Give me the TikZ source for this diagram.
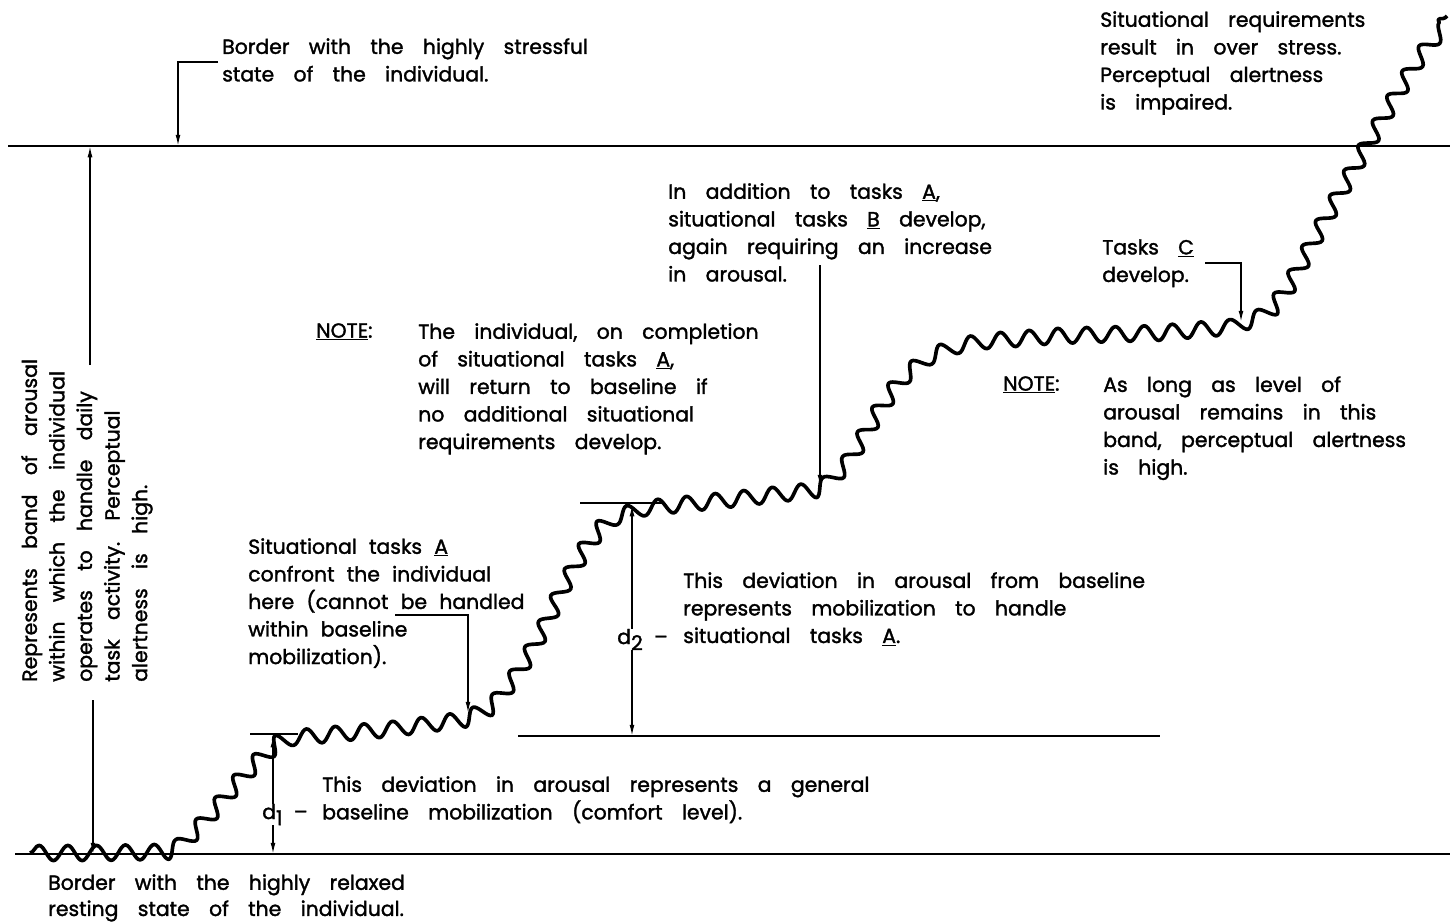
\documentclass[tikz,border=0pt]{standalone}
\usepackage{fontspec}
\setmainfont{Poppins}[FakeBold=1.6]
\usetikzlibrary{arrows.meta,decorations.pathmorphing,positioning}
\newcommand{\lettering}{\fontsize{14.5}{19.6}\selectfont\spaceskip=0.95em\relax}
\newcommand{\tightlettering}{\fontsize{14.5}{19.6}\selectfont\spaceskip=0.6em\relax}

\begin{document}
\begin{tikzpicture}[x=0.025cm, y=-0.025cm,
  note/.style={anchor=north west, inner sep=0pt, align=left, font=\lettering},
  border/.style={line width=1.8pt},
  lead/.style={line width=1pt, -{Latex[length=8pt,width=3.5pt]}},
  backlead/.style={line width=1pt, {Latex[length=8pt,width=3.5pt]}-},
  coil/.style={line width=2.6pt, line join=round, decorate,
    decoration={snake, segment length=0.72cm, amplitude=0.19cm}},
]
\useasboundingbox (0,0) rectangle (1450,921);

% === BORDER LINES ===
\coordinate (hiL) at (8,146);
\coordinate (hiR) at (1450,146);
\coordinate (loL) at (15,854);
\coordinate (loR) at (1450,854);
\coordinate (baseL) at (518,736);
\coordinate (baseR) at (1160,736);
\draw[border] (hiL) -- (hiR);
\draw[border] (loL) -- (loR);
\draw[border] (baseL) -- (baseR);

% ticks at top of d1 and d2
\coordinate (t1L) at (250,734);
\coordinate (t1R) at (298,734);
\coordinate (t2L) at (580,503);
\coordinate (t2R) at (662,503);
\draw[border] (t1L) -- (t1R);
\draw[border] (t2L) -- (t2R);

% === AROUSAL CURVE ===
\draw[coil] (30,853) -- (95,853) -- (155,852) -- (175,843) -- (195,823)
  -- (215,800) -- (235,776) -- (255,755) -- (272,740) -- (290,734)
  -- (380,726) -- (465,715) -- (485,706) -- (500,692) -- (515,672)
  -- (530,648) -- (545,620) -- (563,582) -- (580,552) -- (600,527)
  -- (618,513) -- (640,506) -- (720,498) -- (810,488) -- (830,478)
  -- (845,462) -- (860,437) -- (875,412) -- (890,390) -- (905,372)
  -- (925,356) -- (950,346) -- (980,341) -- (1050,336) -- (1150,333)
  -- (1225,327) -- (1245,320) -- (1262,308) -- (1278,287) -- (1290,265)
  -- (1310,228) -- (1333,187) -- (1358,143) -- (1383,100) -- (1403,67)
  -- (1423,40) -- (1447,16);

% === TEXTS ===
\node[note] (stress) at (222,38) {Border with the highly stressful\\state of the individual.};
\node[note] (over) at (1100,11) {Situational requirements\\result in over stress.\\Perceptual alertness\\is impaired.};
\node[note] (addB) at (668,183) {In addition to tasks \underline{A},\\situational tasks \underline{B} develop,\\again requiring an increase\\in arousal.};
\node[note] (tasksC) at (1102,239) {Tasks \underline{C}\\develop.};
\node[note] (note1) at (316,323) {\underline{NOTE}:};
\node[note] (note1txt) at (418,323) {The individual, on completion\\of situational tasks \underline{A},\\will return to baseline if\\no additional situational\\requirements develop.};
\node[note] (note2) at (1003,376) {\underline{NOTE}:};
\node[note] (note2txt) at (1103,376) {As long as level of\\arousal remains in this\\band, perceptual alertness\\is high.};
\node[note, font=\tightlettering] (tasksA) at (248,538) {Situational tasks \underline{A}\\confront the individual\\here (cannot be handled\\within baseline\\mobilization).};
\node[note] (dev2) at (683,572) {This deviation in arousal from baseline\\represents mobilization to handle\\situational tasks \underline{A}.};
\node[note] (dev1) at (322,776) {This deviation in arousal represents a general\\baseline mobilization (comfort level).};
\node[note] (relaxed) at (48,874) {Border with the highly relaxed\\[-1pt]resting state of the individual.};
\node[note, rotate=90] (band) at (21,682) {Represents band of arousal\\within which the individual\\operates to handle daily\\task activity. Perceptual\\alertness is high.};

% d labels
\node[note, anchor=base west] (d1lab) at (262,819) {d\raisebox{-.55ex}{1}\hspace{.55em}--};
\node[note, anchor=base west] (d2lab) at (617,644) {d\raisebox{-.55ex}{2}\hspace{.55em}--};

% === LEADERS ===
\coordinate (stresshook) at (218,62);
\coordinate (stresstip) at (178,146);
\draw[lead] (stresshook) -| (stresstip);

\coordinate (bandhook) at (90,365);
\coordinate (bandtop) at (90,146);
\draw[lead] (bandhook) -- (bandtop);
\coordinate (bandlow) at (93,700);
\coordinate (bandbot) at (93,854);
\draw[lead] (bandlow) -- (bandbot);

\coordinate (Ahook) at (395,615);
\coordinate (Atip) at (468,713);
\draw[lead] (Ahook) -| (Atip);

\coordinate (Bstart) at (820,265);
\coordinate (Btip) at (820,486);
\draw[lead] (Bstart) -- (Btip);

\coordinate (Chook) at (1205,263);
\coordinate (Ctip) at (1241,322);
\draw[lead] (Chook) -| (Ctip);

% === DEVIATIONS ===
\coordinate (d1top) at (273,736);
\coordinate (d1bot) at (273,854);
\draw[backlead] (d1top) -- (d1top |- d1lab.north);
\draw[lead] (d1top |- d1lab.south) -- (d1bot);
\coordinate (d2top) at (632,505);
\coordinate (d2bot) at (632,736);
\draw[backlead] (d2top) -- (d2top |- d2lab.north);
\draw[lead] (d2top |- d2lab.south) -- (d2bot);
\end{tikzpicture}
\end{document}
